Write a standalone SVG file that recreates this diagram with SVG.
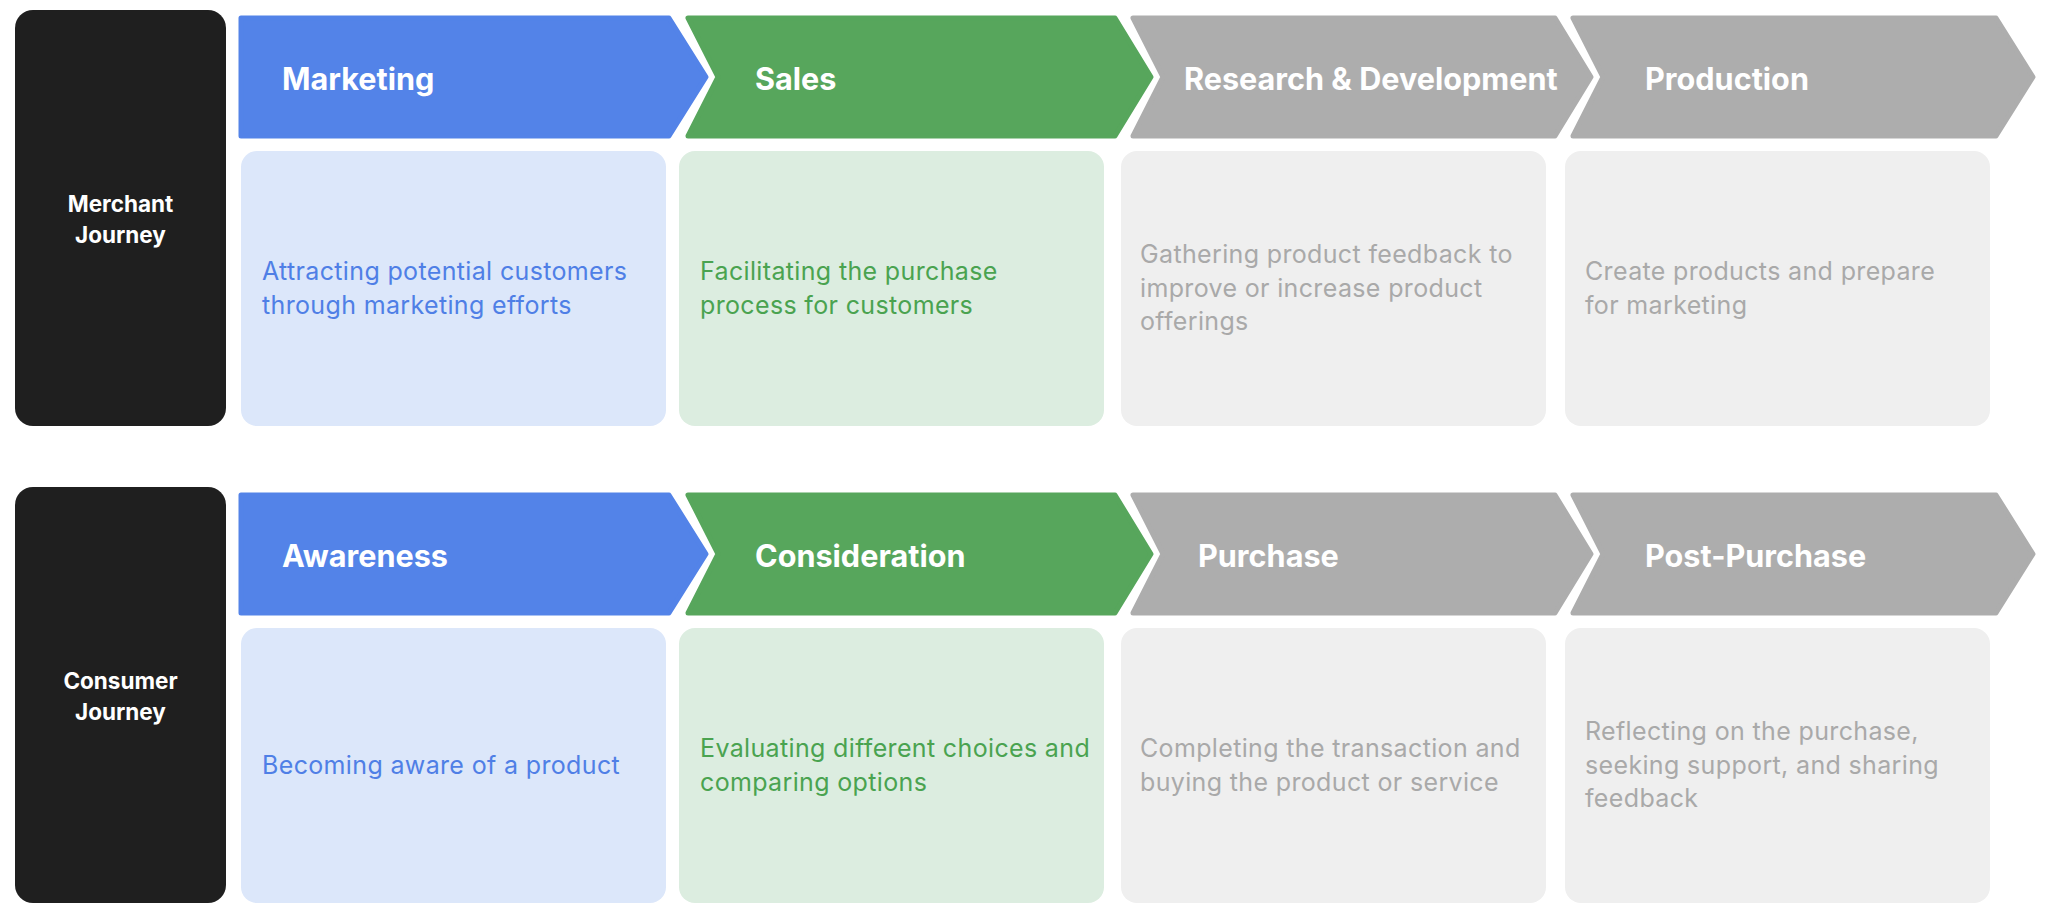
<svg xmlns="http://www.w3.org/2000/svg" width="2048" height="916" viewBox="0 0 2048 916">
<style>
.bg{fill:#ffffff}
.side{fill:#1f1f1f}
.side-t{fill:#ffffff;font-family:Inter,"Liberation Sans",sans-serif;font-weight:700;font-size:22.5px;text-anchor:middle}
.chev{stroke-linejoin:round;stroke-width:5}
.blue{fill:#5383e8;stroke:#5383e8}
.green{fill:#57a65c;stroke:#57a65c}
.gray{fill:#adadad;stroke:#adadad}
.head{fill:#ffffff;font-family:Inter,"Liberation Sans",sans-serif;font-weight:700;font-size:30.6px}
.box-b{fill:#dce7fa}
.box-g{fill:#dcede0}
.box-n{fill:#efefef}
.body{font-family:Inter,"Liberation Sans",sans-serif;font-weight:400;font-size:25px;letter-spacing:0.35px}
.tb{fill:#4f7fe6}
.tg{fill:#4aa350}
.tn{fill:#a9a9a9}
</style>
<rect class="bg" x="0" y="0" width="2048" height="916"/>

<g id="merchant-journey">
  <rect class="side" x="15" y="10" width="211" height="416" rx="18"/>
  <text class="side-t" x="120.5" y="212">Merchant</text>
  <text class="side-t" x="120.5" y="243">Journey</text>
</g>

<g id="marketing">
  <path class="chev blue" d="M241,18 L669,18 L706,77 L669,136 L241,136 Z"/>
  <text class="head" x="282" y="90">Marketing</text>
</g>
<g id="sales">
  <path class="chev green" d="M688,18 L1115,18 L1151,77 L1115,136 L688,136 L718,77 Z"/>
  <text class="head" x="755" y="90">Sales</text>
</g>
<g id="research-development">
  <path class="chev gray" d="M1133,18 L1555,18 L1591,77 L1555,136 L1133,136 L1163,77 Z"/>
  <text class="head" x="1184" y="90">Research &amp; Development</text>
</g>
<g id="production">
  <path class="chev gray" d="M1573,18 L1996,18 L2033,77 L1996,136 L1573,136 L1603,77 Z"/>
  <text class="head" x="1645" y="90">Production</text>
</g>

<g id="marketing-desc">
  <rect class="box-b" x="241" y="151" width="425" height="275" rx="16"/>
  <text class="body tb" x="262" y="280">Attracting potential customers</text>
  <text class="body tb" x="262" y="313.5">through marketing efforts</text>
</g>
<g id="sales-desc">
  <rect class="box-g" x="679" y="151" width="425" height="275" rx="16"/>
  <text class="body tg" x="700" y="280">Facilitating the purchase</text>
  <text class="body tg" x="700" y="313.5">process for customers</text>
</g>
<g id="research-desc">
  <rect class="box-n" x="1121" y="151" width="425" height="275" rx="16"/>
  <text class="body tn" x="1140" y="263">Gathering product feedback to</text>
  <text class="body tn" x="1140" y="296.5">improve or increase product</text>
  <text class="body tn" x="1140" y="330">offerings</text>
</g>
<g id="production-desc">
  <rect class="box-n" x="1565" y="151" width="425" height="275" rx="16"/>
  <text class="body tn" x="1585" y="280">Create products and prepare</text>
  <text class="body tn" x="1585" y="313.5">for marketing</text>
</g>

<g id="consumer-journey">
  <rect class="side" x="15" y="487" width="211" height="416" rx="18"/>
  <text class="side-t" x="120.5" y="689">Consumer</text>
  <text class="side-t" x="120.5" y="720">Journey</text>
</g>

<g id="awareness">
  <path class="chev blue" d="M241,495 L669,495 L706,554 L669,613 L241,613 Z"/>
  <text class="head" x="282" y="567">Awareness</text>
</g>
<g id="consideration">
  <path class="chev green" d="M688,495 L1115,495 L1151,554 L1115,613 L688,613 L718,554 Z"/>
  <text class="head" x="755" y="567">Consideration</text>
</g>
<g id="purchase">
  <path class="chev gray" d="M1133,495 L1555,495 L1591,554 L1555,613 L1133,613 L1163,554 Z"/>
  <text class="head" x="1198" y="567">Purchase</text>
</g>
<g id="post-purchase">
  <path class="chev gray" d="M1573,495 L1996,495 L2033,554 L1996,613 L1573,613 L1603,554 Z"/>
  <text class="head" x="1645" y="567">Post-Purchase</text>
</g>

<g id="awareness-desc">
  <rect class="box-b" x="241" y="628" width="425" height="275" rx="16"/>
  <text class="body tb" x="262" y="774">Becoming aware of a product</text>
</g>
<g id="consideration-desc">
  <rect class="box-g" x="679" y="628" width="425" height="275" rx="16"/>
  <text class="body tg" x="700" y="757">Evaluating different choices and</text>
  <text class="body tg" x="700" y="790.5">comparing options</text>
</g>
<g id="purchase-desc">
  <rect class="box-n" x="1121" y="628" width="425" height="275" rx="16"/>
  <text class="body tn" x="1140" y="757">Completing the transaction and</text>
  <text class="body tn" x="1140" y="790.5">buying the product or service</text>
</g>
<g id="post-purchase-desc">
  <rect class="box-n" x="1565" y="628" width="425" height="275" rx="16"/>
  <text class="body tn" x="1585" y="740">Reflecting on the purchase,</text>
  <text class="body tn" x="1585" y="773.5">seeking support, and sharing</text>
  <text class="body tn" x="1585" y="807">feedback</text>
</g>

<g id="connectors"></g>
</svg>
